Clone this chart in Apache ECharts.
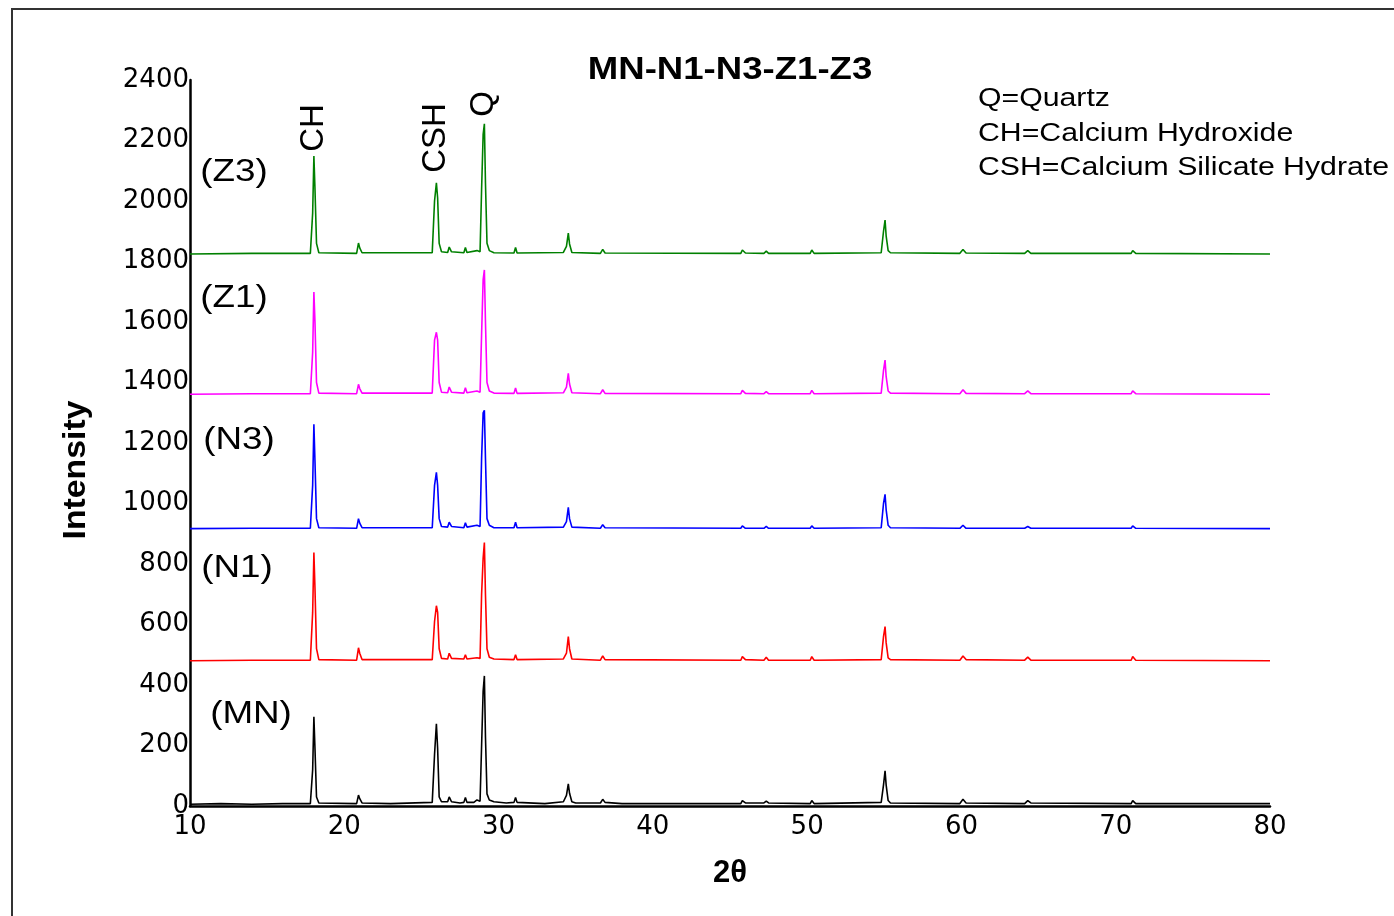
<!DOCTYPE html>
<html>
<head>
<meta charset="utf-8">
<script src="https://cdn.jsdelivr.net/npm/echarts@6/dist/echarts.min.js"></script>
<style>
html,body{margin:0;padding:0;background:#fff;}
#chart{width:1394px;height:916px;}
</style>
</head>
<body>
<div id="chart"></div>
<script>
// 2theta / intensity pairs (curves are already offset)
var xTicks = [10, 20, 30, 40, 50, 60, 70, 80];
var yTicks = [0, 200, 400, 600, 800, 1000, 1200, 1400, 1600, 1800, 2000, 2200, 2400];

var seriesNames = ['(MN)', '(N1)', '(N3)', '(Z1)', '(Z3)'];
var seriesColors = ['#000000', '#ff0000', '#0000ff', '#ff00ff', '#008000'];

var dataMN = [
  [10,6],[12,8],[14,6],[16,8],[17.8,8],[17.95,120],[18.03,295],[18.1,190],[18.2,30],[18.35,10],
  [20.8,8],[20.92,36],[21.0,24],[21.15,10],[23,8],
  [25.7,12],[25.85,170],[25.97,272],[26.05,190],[26.15,30],[26.3,14],
  [26.7,14],[26.8,30],[26.95,14],[27.5,10],[27.75,12],[27.85,28],[27.95,12],[28.4,12],[28.6,20],[28.8,16],
  [28.9,200],[29.0,380],[29.08,430],[29.15,230],[29.25,40],[29.4,20],[29.7,14],[30.5,10],
  [31.0,12],[31.1,28],[31.2,12],[33,8],
  [34.2,14],[34.4,35],[34.52,73],[34.6,42],[34.75,14],[35,10],
  [36.6,10],[36.75,22],[36.9,12],[38,8],[42,8],
  [45.7,8],[45.8,18],[46.0,10],[47.2,10],[47.35,16],[47.5,10],[50.2,8],[50.3,18],[50.45,8],
  [54.8,12],[54.95,70],[55.05,116],[55.12,70],[55.25,18],[55.4,10],
  [59.9,8],[60.1,22],[60.3,10],[64.1,8],[64.3,18],[64.5,10],[71.0,8],[71.1,18],[71.3,8],[80,8]
];

var dataN1 = [
  [10,480],[14,482],[17.8,482],[17.95,640],[18.03,838],[18.1,720],[18.2,520],[18.35,484],
  [20.8,482],[20.92,523],[21.0,505],[21.15,484],
  [25.7,484],[25.85,610],[25.97,662],[26.05,640],[26.15,520],[26.3,488],
  [26.7,486],[26.8,505],[26.95,488],[27.75,486],[27.85,500],[27.95,486],[28.6,490],[28.8,488],
  [28.9,700],[29.0,820],[29.08,871],[29.15,700],[29.25,520],[29.4,492],[29.7,486],
  [31.0,484],[31.1,500],[31.2,484],
  [34.2,486],[34.4,505],[34.52,560],[34.6,520],[34.75,486],
  [36.6,482],[36.75,496],[36.9,484],
  [45.7,482],[45.8,494],[46.0,484],[47.2,482],[47.35,492],[47.5,482],[50.2,482],[50.3,494],[50.45,482],
  [54.8,484],[54.95,560],[55.05,593],[55.12,540],[55.25,490],[55.4,484],
  [59.9,482],[60.1,496],[60.3,484],[64.1,482],[64.3,492],[64.5,482],[71.0,482],[71.1,494],[71.3,482],[80,480]
];

var dataN3 = [
  [10,917],[14,918],[17.8,918],[17.95,1060],[18.03,1262],[18.1,1140],[18.2,950],[18.35,920],
  [20.8,918],[20.92,950],[21.0,935],[21.15,920],
  [25.7,920],[25.85,1060],[25.97,1103],[26.05,1060],[26.15,950],[26.3,924],
  [26.7,922],[26.8,938],[26.95,924],[27.75,920],[27.85,936],[27.95,922],[28.6,928],[28.8,924],
  [28.9,1150],[29.0,1300],[29.08,1308],[29.15,1150],[29.25,950],[29.4,928],[29.7,920],
  [31.0,920],[31.1,938],[31.2,920],
  [34.2,922],[34.4,940],[34.52,987],[34.6,950],[34.75,922],
  [36.6,918],[36.75,930],[36.9,920],
  [45.7,918],[45.8,926],[46.0,918],[47.2,918],[47.35,924],[47.5,918],[50.2,918],[50.3,926],[50.45,918],
  [54.8,920],[54.95,1000],[55.05,1030],[55.12,980],[55.25,928],[55.4,920],
  [59.9,918],[60.1,928],[60.3,918],[64.1,918],[64.3,924],[64.5,918],[71.0,918],[71.1,926],[71.3,918],[80,917]
];

var dataZ1 = [
  [10,1361],[14,1363],[17.8,1363],[17.95,1500],[18.03,1699],[18.1,1600],[18.2,1400],[18.35,1365],
  [20.8,1363],[20.92,1394],[21.0,1380],[21.15,1365],
  [25.7,1365],[25.85,1540],[25.97,1566],[26.05,1540],[26.15,1400],[26.3,1368],
  [26.7,1366],[26.8,1385],[26.95,1368],[27.75,1365],[27.85,1383],[27.95,1366],[28.6,1372],[28.8,1368],
  [28.9,1560],[29.0,1740],[29.08,1772],[29.15,1600],[29.25,1400],[29.4,1372],[29.7,1365],
  [31.0,1364],[31.1,1382],[31.2,1364],
  [34.2,1366],[34.4,1385],[34.52,1430],[34.6,1395],[34.75,1366],
  [36.6,1363],[36.75,1376],[36.9,1364],
  [45.7,1363],[45.8,1374],[46.0,1364],[47.2,1363],[47.35,1370],[47.5,1363],[50.2,1363],[50.3,1374],[50.45,1363],
  [54.8,1365],[54.95,1440],[55.05,1474],[55.12,1420],[55.25,1372],[55.4,1365],
  [59.9,1363],[60.1,1376],[60.3,1364],[64.1,1363],[64.3,1372],[64.5,1363],[71.0,1363],[71.1,1372],[71.3,1363],[80,1361]
];

var dataZ3 = [
  [10,1825],[14,1827],[17.8,1827],[17.95,1960],[18.03,2149],[18.1,2040],[18.2,1860],[18.35,1829],
  [20.8,1827],[20.92,1861],[21.0,1845],[21.15,1829],
  [25.7,1829],[25.85,2000],[25.97,2060],[26.05,2010],[26.15,1860],[26.3,1832],
  [26.7,1830],[26.8,1848],[26.95,1832],[27.75,1829],[27.85,1846],[27.95,1830],[28.6,1836],[28.8,1832],
  [28.9,2040],[29.0,2220],[29.08,2255],[29.15,2060],[29.25,1860],[29.4,1836],[29.7,1829],
  [31.0,1828],[31.1,1846],[31.2,1828],
  [34.2,1830],[34.4,1850],[34.52,1894],[34.6,1858],[34.75,1830],
  [36.6,1827],[36.75,1840],[36.9,1828],
  [45.7,1827],[45.8,1838],[46.0,1828],[47.2,1827],[47.35,1834],[47.5,1827],[50.2,1827],[50.3,1838],[50.45,1827],
  [54.8,1829],[54.95,1900],[55.05,1937],[55.12,1885],[55.25,1836],[55.4,1829],
  [59.9,1827],[60.1,1840],[60.3,1828],[64.1,1827],[64.3,1836],[64.5,1827],[71.0,1827],[71.1,1836],[71.3,1827],[80,1825]
];

var allData = [dataMN, dataN1, dataN3, dataZ1, dataZ3];

var peakLabels = ['CH', 'CSH', 'Q'];
var legendLines = ['Q=Quartz', 'CH=Calcium Hydroxide', 'CSH=Calcium Silicate Hydrate'];

var FONT = '"Liberation Sans", Arial, sans-serif';
var TICKFONT = '"DejaVu Sans", sans-serif';

var chart = echarts.init(document.getElementById('chart'));

var series = allData.map(function (d, i) {
  return {
    name: seriesNames[i],
    type: 'line',
    data: d,
    showSymbol: false,
    symbol: 'none',
    lineStyle: { color: seriesColors[i], width: 1.6 },
    itemStyle: { color: seriesColors[i] },
    z: 3
  };
});

// the original texts are rendered a bit wide, so stretch them horizontally
function txt(x, y, s, size, weight, rot, sx) {
  return {
    type: 'text',
    x: x, y: y,
    rotation: rot || 0,
    scaleX: sx || 1,
    style: {
      text: s, fill: '#000',
      font: (weight || 'normal') + ' ' + size + 'px ' + FONT,
      align: 'center', verticalAlign: 'middle'
    },
    z: 10
  };
}

var graphics = [
  // frame of the original figure
  { type: 'rect', shape: { x: 12, y: 9, width: 1500, height: 1000 },
    style: { fill: 'none', stroke: '#333', lineWidth: 2 }, z: 1 },
  txt(730, 70, 'MN-N1-N3-Z1-Z3', 31, 'bold', 0, 1.18),
  txt(76, 470, 'Intensity', 31, 'bold', Math.PI / 2, 1.09),
  txt(730, 873, '2θ', 31, 'bold'),
  txt(234, 172, '(Z3)', 32, 'normal', 0, 1.15),
  txt(234, 298, '(Z1)', 32, 'normal', 0, 1.15),
  txt(239, 440, '(N3)', 32, 'normal', 0, 1.15),
  txt(237, 568, '(N1)', 32, 'normal', 0, 1.15),
  txt(251, 714, '(MN)', 32, 'normal', 0, 1.15),
  txt(314, 128, peakLabels[0], 33, 'normal', Math.PI / 2),
  txt(436, 138, peakLabels[1], 33, 'normal', Math.PI / 2),
  txt(484, 104, peakLabels[2], 33, 'normal', Math.PI / 2)
];
legendLines.forEach(function (s, i) {
  graphics.push({
    type: 'text', x: 978, y: [99, 134, 168][i],
    scaleX: 1.21,
    style: { text: s, fill: '#000', font: '25px ' + FONT, align: 'left', verticalAlign: 'middle' },
    z: 10
  });
});

var option = {
  animation: false,
  backgroundColor: '#fff',
  grid: { left: 190, right: 124, top: 80, bottom: 110, containLabel: false },
  xAxis: {
    type: 'value',
    min: xTicks[0], max: xTicks[xTicks.length - 1], interval: 10,
    axisLine: { show: true, onZero: false, lineStyle: { color: '#000', width: 2.5 } },
    axisTick: { show: false },
    splitLine: { show: false },
    axisLabel: { color: '#000', fontSize: 26, fontFamily: TICKFONT, margin: 8 }
  },
  yAxis: {
    type: 'value',
    min: yTicks[0], max: yTicks[yTicks.length - 1], interval: 200,
    axisLine: { show: true, onZero: false, lineStyle: { color: '#000', width: 2.5 } },
    axisTick: { show: false },
    splitLine: { show: false },
    axisLabel: {
      color: '#000', fontSize: 26, fontFamily: TICKFONT, margin: 1,
      formatter: function (v) { return String(v); }
    }
  },
  series: series,
  graphic: graphics
};

chart.setOption(option);
</script>
</body>
</html>
